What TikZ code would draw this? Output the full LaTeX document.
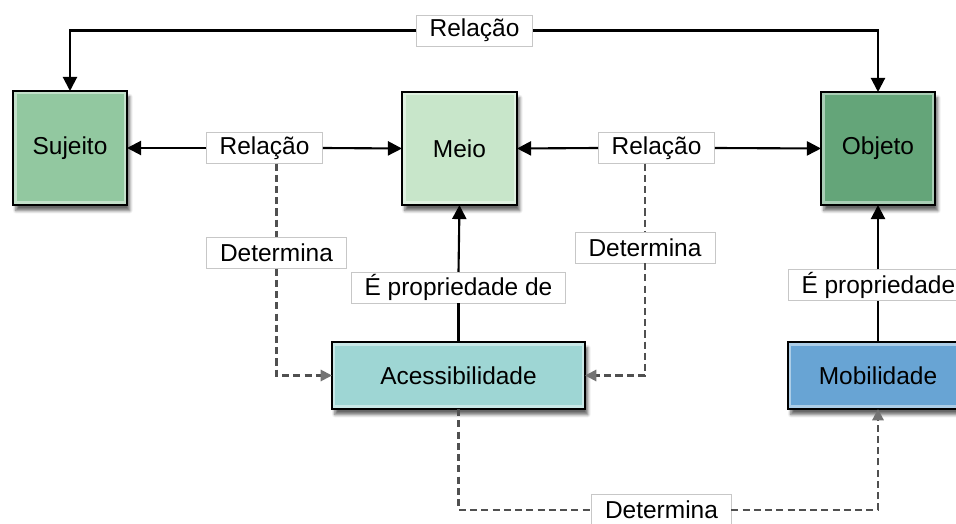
\documentclass[tikz,border=0pt]{standalone}
\usepackage{fontspec}
\setmainfont{Liberation Sans}
\usetikzlibrary{arrows.meta,shadows.blur}
\definecolor{corsujeito}{RGB}{146,200,160}
\definecolor{cormeio}{RGB}{200,230,202}
\definecolor{corobjeto}{RGB}{100,165,121}
\definecolor{coracess}{RGB}{158,214,212}
\definecolor{cormobil}{RGB}{104,164,212}
\definecolor{cortraco}{RGB}{80,80,80}
\tikzset{
  caixa/.style={draw=black, line width=1.8pt, inner sep=0pt, outer sep=0pt,
    font=\fontsize{17.4}{20}\selectfont,
    blur shadow={shadow xshift=2pt, shadow yshift=-4pt, shadow opacity=60, shadow blur steps=6},
    path picture={\draw[white, opacity=.45, line width=5pt]
      (path picture bounding box.south west) rectangle (path picture bounding box.north east);}},
  rotulo/.style={draw=black!22, line width=.6pt, fill=white, inner xsep=9.6pt, inner ysep=0pt,
    minimum height=0.775cm, outer sep=0pt, font=\fontsize{17.4}{20}\selectfont},
  liga/.style={line width=1.5pt, -{Triangle[length=10pt,width=10pt]}},
  determina/.style={cortraco, line width=1.5pt, dash pattern=on 5pt off 3pt,
    -{Triangle[length=8pt,width=8pt,color=black!55]}},
}
\begin{document}
\begin{tikzpicture}[x=0.025cm,y=-0.025cm]
      \useasboundingbox (0,0) rectangle (956,524);
      \clip (0,0) rectangle (956,524);
      \node[caixa, fill=corsujeito, minimum width=2.85cm, minimum height=2.85cm] (sujeito) at (70,148) {Sujeito};
      \node[caixa, fill=cormeio, minimum width=2.875cm, minimum height=2.825cm] (meio) at (459.5,148.5) {Meio};
      \node[caixa, fill=corobjeto, minimum width=2.85cm, minimum height=2.825cm] (objeto) at (878,148.5) {Objeto};
      \node[caixa, fill=coracess, minimum width=6.325cm, minimum height=1.675cm] (acess) at (458.5,375.5) {Acessibilidade};
      \node[caixa, fill=cormobil, minimum width=4.5cm, minimum height=1.675cm] (mobil) at (878,375.5) {Mobilidade};
      \draw
        (474.5,30.5) node[rotulo] (reltopo){Relação}
        (264.5,148) node[rotulo] (relesq){Relação}
        (656.5,148) node[rotulo] (reldir){Relação}
        (276.5,253) node[rotulo] (detesq){Determina}
        (645,247.5) node[rotulo] (detdir){Determina}
        (661.5,510) node[rotulo] (detbaixo){Determina}
        (458.5,287.5) node[rotulo] (propesq){É propriedade de}
        (788,285) node[rotulo, anchor=west] (propdir){É propriedade};
      \begin{scope}[liga]
        \draw (reltopo.west) -| (sujeito.north);
        \draw (reltopo.east) -| (objeto.north);
        \draw (relesq.west) to (sujeito.east);
        \draw (relesq.east) to (meio.west);
        \draw (reldir.west) to (meio.east);
        \draw (reldir.east) to (objeto.west);
        \draw (propesq.north) to (meio.south);
        \draw (mobil.north |- propdir.north) to (objeto.south);
      \end{scope}
      \begin{scope}[line width=1.5pt]
        \draw (acess.north) to (propesq.south);
        \draw (mobil.north) to (mobil.north |- propdir.south);
      \end{scope}
      \begin{scope}[determina]
        \draw[-] (detesq |- relesq.south) to (detesq.north);
        \draw (detesq.south) |- (acess.west);
        \draw[-] (detdir |- reldir.south) to (detdir.north);
        \draw (detdir.south) |- (acess.east);
        \draw[-] (acess.south) |- (detbaixo.west);
        \draw (detbaixo.east) -| (mobil.south);
      \end{scope}
\end{tikzpicture}
\end{document}
